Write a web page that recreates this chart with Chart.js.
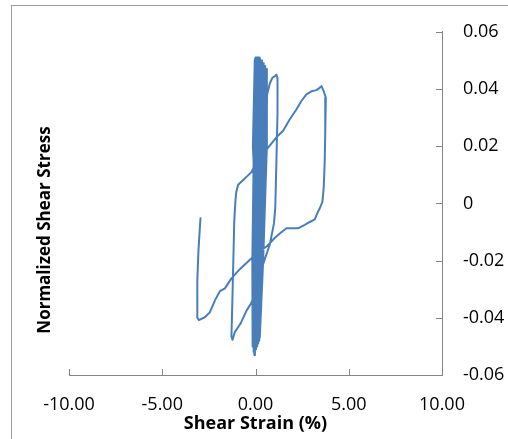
<!DOCTYPE html>
<html>
<head>
<meta charset="utf-8">
<script src="https://cdn.jsdelivr.net/npm/chart.js@4"></script>
<style>
  html, body { margin: 0; padding: 0; background: #fff; }
  #wrap { width: 508px; height: 439px; position: relative; }
</style>
</head>
<body>
<div id="wrap"><canvas id="c" width="508" height="439"></canvas></div>
<script>
// Shear strain (%), in drawing order
const strain = [
  0,
  -0.14, -0.04,
  0.00, -0.09, -0.17, -0.17,
  -0.14, -0.13, -0.04, 0.05,
  0.09, 0.01, -0.09, -0.11,
  -0.09, -0.04, 0.06, 0.13,
  0.18, 0.11, 0.00, -0.06,
  -0.03, 0.04, 0.16, 0.22,
  0.26, 0.21, 0.08, 0.00,
  0.03, 0.12, 0.26, 0.31,
  0.35, 0.31, 0.16, 0.06,
  0.09, 0.20, 0.36, 0.39,
  0.44, 0.41, 0.24, 0.12,
  0.14, 0.29, 0.46, 0.48,
  0.52, 0.51, 0.33, 0.17,
  0.20, 0.37, 0.56, 0.57,
  0.61, 0.61, 0.41, 0.23,
  0.38, 0.58, 0.62,
  0.77, 0.91, 1.03, 1.12, 1.18, 1.18, 1.12, 1.06, 0.99, 0.77, 0.39, 0.05,
  -0.25, -0.48, -0.81, -1.11, -1.23, -1.29, -1.24, -1.19, -1.14, -1.08, -1.03,
  -0.93, -0.66, -0.40, -0.21, -0.09, 0.23, 0.59,
  1.12, 1.48, 1.84, 2.20, 2.46, 2.73, 3.00, 3.27, 3.44, 3.54, 3.66, 3.77,
  3.74, 3.71, 3.66, 3.59, 3.44, 3.35, 3.18, 2.91, 2.64, 2.28, 1.94, 1.66,
  1.30, 1.03, 0.61, 0.23, -0.20, -0.84, -1.29, -1.64, -1.91, -2.18, -2.45,
  -2.72, -3.04, -3.13, -3.12, -3.06, -2.98, -2.95
];
// Normalized shear stress, same order
const stress = [
  0,
  0.02, 0.050,
  0.051, 0.02, -0.02, -0.049,
  -0.050, -0.02, 0.02, 0.051,
  0.051, 0.02, -0.02, -0.051,
  -0.052, -0.02, 0.02, 0.051,
  0.051, 0.02, -0.02, -0.053,
  -0.052, -0.02, 0.02, 0.051,
  0.050, 0.02, -0.02, -0.051,
  -0.051, -0.02, 0.02, 0.050,
  0.050, 0.02, -0.02, -0.050,
  -0.050, -0.02, 0.02, 0.049,
  0.049, 0.02, -0.02, -0.049,
  -0.049, -0.02, 0.02, 0.048,
  0.048, 0.02, -0.02, -0.048,
  -0.048, -0.02, 0.02, 0.047,
  0.046, 0.02, -0.02, -0.047,
  -0.02, 0.02, 0.038,
  0.042, 0.044, 0.0444, 0.045, 0.0438, 0.0317, 0.0144, -0.0015, -0.007, -0.0143, -0.0216, -0.0306,
  -0.0351, -0.0375, -0.0421, -0.045, -0.0477, -0.0465, -0.034, -0.0202, -0.0063, 0.0006, 0.004,
  0.0065, 0.0082, 0.0098, 0.011, 0.0127, 0.0162, 0.0188,
  0.0231, 0.0254, 0.0294, 0.0329, 0.0358, 0.0381, 0.0392, 0.0396, 0.0404, 0.041, 0.0392, 0.0369,
  0.0248, 0.0144, 0.0058, 0.0006, -0.0018, -0.0029, -0.0056, -0.0065, -0.0075, -0.0087, -0.0087, -0.0087,
  -0.0105, -0.0121, -0.015, -0.0167, -0.0191, -0.023, -0.0262, -0.0297, -0.0307, -0.034, -0.0381,
  -0.0398, -0.0408, -0.0398, -0.0271, -0.0167, -0.0081, -0.0052
];
const xTitle = 'Shear Strain (%)';
const yTitle = 'Normalized Shear Stress';

const points = strain.map((x, i) => ({ x: x, y: stress[i] }));

const FONT = "'Open Sans', 'Liberation Sans', sans-serif";
const AXIS = '#868686';

const decor = {
  id: 'decor',
  beforeDraw(chart) {
    const ctx = chart.ctx;
    ctx.save();
    ctx.fillStyle = '#ffffff';
    ctx.fillRect(0, 0, chart.width, chart.height);
    ctx.strokeStyle = '#9a9a9a';
    ctx.lineWidth = 1;
    ctx.strokeRect(11.5, 5.5, 700, 700);
    ctx.restore();
  },
  afterDraw(chart) {
    const ctx = chart.ctx;
    const xs = chart.scales.x, ys = chart.scales.y;
    const a = chart.chartArea;
    ctx.save();
    ctx.strokeStyle = AXIS;
    ctx.lineWidth = 1;
    ctx.beginPath();
    xs.ticks.forEach(t => {
      const px = Math.round(xs.getPixelForValue(t.value)) + 0.5;
      ctx.moveTo(px, a.bottom);
      ctx.lineTo(px, a.bottom - 6);
    });
    ys.ticks.forEach(t => {
      const py = Math.round(ys.getPixelForValue(t.value)) + 0.5;
      ctx.moveTo(a.right, py);
      ctx.lineTo(a.right - 6, py);
    });
    ctx.stroke();
    // y-axis title on the left side
    ctx.translate(45, 230);
    ctx.rotate(-Math.PI / 2);
    ctx.fillStyle = '#000';
    ctx.font = "bold 17px " + FONT;
    ctx.textAlign = 'center';
    ctx.textBaseline = 'middle';
    ctx.fillText(yTitle, 0, 0);
    ctx.restore();
  }
};

new Chart(document.getElementById('c'), {
  type: 'scatter',
  data: {
    datasets: [{
      data: points,
      showLine: true,
      borderColor: '#4a7ebb',
      backgroundColor: '#4a7ebb',
      borderWidth: 2,
      borderJoinStyle: 'round',
      borderCapStyle: 'round',
      pointRadius: 0,
      tension: 0,
      fill: false
    }]
  },
  options: {
    responsive: false,
    devicePixelRatio: 1,
    animation: false,
    layout: { padding: { left: 69, top: 28, right: 0, bottom: 0 } },
    plugins: { legend: { display: false }, tooltip: { enabled: false } },
    scales: {
      x: {
        type: 'linear',
        position: 'bottom',
        min: -10, max: 10,
        afterFit(s) { s.height = 64; },
        ticks: {
          stepSize: 5,
          padding: 19,
          maxRotation: 0,
          color: '#000',
          font: { family: FONT, size: 18 },
          callback: v => Number(v).toFixed(2)
        },
        grid: { drawOnChartArea: false, drawTicks: false },
        border: { display: true, color: AXIS, width: 1 },
        title: {
          display: true,
          text: xTitle,
          color: '#000',
          font: { family: FONT, size: 18, weight: 'bold' },
          padding: { top: 0, bottom: 4 }
        }
      },
      y: {
        type: 'linear',
        position: 'right',
        min: -0.06, max: 0.06,
        afterFit(s) { s.width = 66; },
        ticks: {
          stepSize: 0.02,
          padding: 21,
          color: '#000',
          font: { family: FONT, size: 18 },
          callback: v => String(parseFloat(Number(v).toFixed(2)))
        },
        grid: { drawOnChartArea: false, drawTicks: false },
        border: { display: true, color: AXIS, width: 1 }
      }
    }
  },
  plugins: [decor]
});
</script>
</body>
</html>
